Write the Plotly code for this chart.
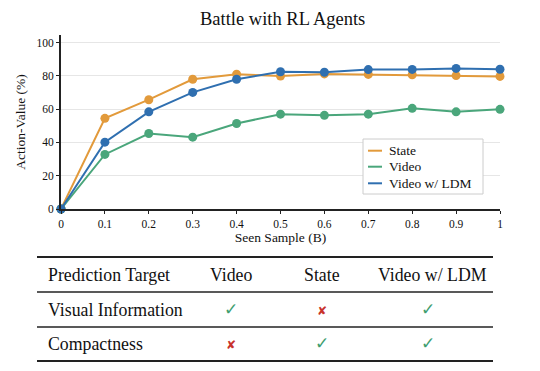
import plotly.graph_objects as go

W, H = 540, 371

seen_sample = [0, 0.1, 0.2, 0.3, 0.4, 0.5, 0.6, 0.7, 0.8, 0.9, 1.0]
state_vals = [0, 54.5, 65.7, 78.0, 81.0, 79.9, 81.2, 80.9, 80.7, 80.2, 79.7]
video_vals = [0, 32.8, 45.4, 43.2, 51.4, 57.0, 56.3, 57.0, 60.5, 58.4, 59.9]
ldm_vals = [0, 40.2, 58.4, 70.1, 78.0, 82.5, 82.2, 83.8, 83.9, 84.5, 84.0]

x_ticks = [0, 0.1, 0.2, 0.3, 0.4, 0.5, 0.6, 0.7, 0.8, 0.9, 1]
x_tick_text = ["0", "0.1", "0.2", "0.3", "0.4", "0.5", "0.6", "0.7", "0.8", "0.9", "1"]
y_ticks = [0, 20, 40, 60, 80, 100]

table_header = ["Prediction Target", "Video", "State", "Video w/ LDM"]
table_rows = [
    ["Visual Information", True, False, True],
    ["Compactness", False, True, True],
]

C_ORANGE = "#E29A3B"
C_GREEN = "#4AA67B"
C_BLUE = "#2F6FB0"
FONT = "Liberation Serif"


def px(x):
    return x / W


def py(y):
    return (H - y) / H


fig = go.Figure()
series = [("State", state_vals, C_ORANGE),
          ("Video", video_vals, C_GREEN),
          ("Video w/ LDM", ldm_vals, C_BLUE)]
for name, vals, col in series:
    fig.add_trace(go.Scatter(
        x=seen_sample, y=vals, name=name, mode="lines+markers",
        line=dict(color=col, width=2),
        marker=dict(color=col, size=9),
        cliponaxis=False, showlegend=False,
    ))

fig.update_layout(
    width=W, height=H,
    margin=dict(l=0, r=0, t=0, b=0, autoexpand=False),
    paper_bgcolor="white", plot_bgcolor="white",
    font=dict(family=FONT, color="#111"),
    showlegend=False,
    xaxis=dict(
        domain=[px(61), px(500)], range=[0, 1], automargin=False,
        tickvals=x_ticks, ticktext=x_tick_text,
        showgrid=False, zeroline=False,
        showline=True, linecolor="#222", linewidth=2,
        ticks="outside", ticklen=3, tickcolor="#222",
        tickfont=dict(size=11.5),
        title=dict(text="Seen Sample (B)", font=dict(size=13.5), standoff=4),
    ),
    yaxis=dict(
        domain=[py(209), py(35)], range=[0, 104.6], automargin=False,
        tickvals=y_ticks,
        showgrid=True, gridcolor="#e6e6e6", gridwidth=1,
        zeroline=False,
        showline=True, linecolor="#222", linewidth=2,
        ticks="outside", ticklen=3, tickcolor="#222",
        tickfont=dict(size=11.5),
        title=dict(text="Action-Value (%)", font=dict(size=13.5), standoff=8),
    ),
)

fig.add_annotation(text="Battle with RL Agents", x=px(282), y=py(19),
                   xref="paper", yref="paper", showarrow=False,
                   font=dict(size=18.5, family=FONT), xanchor="center", yanchor="middle")

# legend box (drawn by hand for compact spacing)
fig.add_shape(type="rect", xref="paper", yref="paper",
              x0=px(363), x1=px(483), y0=py(194), y1=py(139),
              line=dict(color="#cccccc", width=1), fillcolor="white", layer="above")
leg_y = [150.7, 166.7, 183.3]
for (name, _, col), ly in zip(series, leg_y):
    fig.add_shape(type="line", xref="paper", yref="paper",
                  x0=px(368), x1=px(382), y0=py(ly), y1=py(ly),
                  line=dict(color=col, width=2), layer="above")
    fig.add_annotation(text=name, x=px(387), y=py(ly), xref="paper", yref="paper",
                       showarrow=False, font=dict(size=13.5, family=FONT),
                       xanchor="left", yanchor="middle")

# table rules
for ypos, w in [(257, 2), (292, 1.6), (327, 1.6), (361, 2)]:
    fig.add_shape(type="line", xref="paper", yref="paper",
                  x0=px(37), x1=px(493), y0=py(ypos), y1=py(ypos),
                  line=dict(color="#222", width=w))

col_x = [46, 231, 322, 432]
row_y = [275, 310, 344]

for i, h in enumerate(table_header):
    fig.add_annotation(text=h, x=px(col_x[i]), y=py(row_y[0]), xref="paper", yref="paper",
                       showarrow=False, font=dict(size=17.8, family=FONT),
                       xanchor="left" if i == 0 else "center", yanchor="middle")

mark_x = [231, 322, 428]
for r, row in enumerate(table_rows):
    fig.add_annotation(text=row[0], x=px(col_x[0]), y=py(row_y[r + 1]), xref="paper", yref="paper",
                       showarrow=False, font=dict(size=17.8, family=FONT),
                       xanchor="left", yanchor="middle")
    for j, ok in enumerate(row[1:]):
        if ok:
            fig.add_annotation(text="✓", x=px(mark_x[j]), y=py(row_y[r + 1] - 1), xref="paper", yref="paper",
                               showarrow=False, font=dict(size=17, family="DejaVu Sans", color="#3E9E70"),
                               xanchor="center", yanchor="middle")
        else:
            fig.add_annotation(text="✘", x=px(mark_x[j]), y=py(row_y[r + 1] + 1), xref="paper", yref="paper",
                               showarrow=False, font=dict(size=12, family="DejaVu Sans", color="#C8322B"),
                               xanchor="center", yanchor="middle")

fig.write_html("out.html", config={"displayModeBar": False},
               post_script="document.body.style.margin='0px';")
